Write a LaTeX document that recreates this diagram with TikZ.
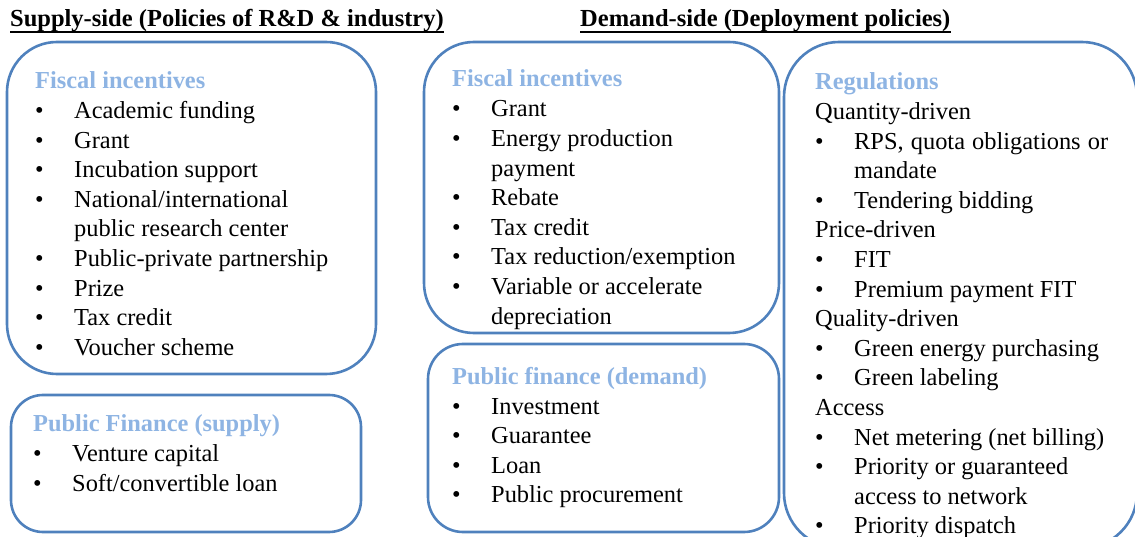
\documentclass[tikz,border=0pt]{standalone}
\usepackage{fontspec}
\setmainfont{Liberation Serif}
\definecolor{framec}{HTML}{4F81BD}
\definecolor{ttlc}{HTML}{8EB4E3}
\newcommand\bul{\makebox[39pt][l]{\textbullet}}
\newcommand\ind{\hspace*{39pt}}
\tikzset{
  panel/.style={draw=framec, line width=2.6pt, rectangle, inner sep=0pt},
  txt/.style={anchor=base west, inner sep=0pt, font=\fontsize{24.4}{29.6}\selectfont},
  ttl/.style={txt, font=\fontsize{24.4}{29.6}\selectfont\bfseries, text=ttlc},
  hdr/.style={txt, font=\fontsize{24.5}{29.6}\selectfont\bfseries},
  uline/.style={line width=1.8pt},
}
\newcommand\boxlines[4]{%
  \foreach \lntext [count=\i] in {#4} {\node[txt] (#3\i) at (#1,{#2+29.6*(\i-1)}) {\lntext};}}
\begin{document}
\begin{tikzpicture}[x=1pt,y=-1pt]
\useasboundingbox (0,0) rectangle (1135,537);
% headers
\node[hdr] (hs) at (10,27) {Supply-side (Policies of R\&D \& industry)};
\node[hdr] (hd) at (580,27) {Demand-side (Deployment policies)};
\draw[uline] ([yshift=-5pt]hs.base west) -- ([yshift=-5pt]hs.base east);
\draw[uline] ([yshift=-5pt]hd.base west) -- ([yshift=-5pt]hd.base east);
% panels
\node[panel, rounded corners=50pt, minimum width=369pt, minimum height=332pt] (sf) at (191.5,208) {};
\node[panel, rounded corners=32pt, minimum width=350pt, minimum height=137pt] (spf) at (186,463.5) {};
\node[panel, rounded corners=50pt, minimum width=355pt, minimum height=291pt] (df) at (601.5,187.5) {};
\node[panel, rounded corners=35pt, minimum width=351pt, minimum height=188pt] (dpf) at (603.5,438) {};
\node[panel, rounded corners=55pt, minimum width=353pt, minimum height=506pt] (reg) at (960.5,295) {};
% supply fiscal
\node[ttl] (sft) at (35,88.5) {Fiscal incentives};
\boxlines{35}{118.5}{sfl}{\bul Academic funding, \bul Grant, \bul Incubation support, \bul National/international, \ind public research center, \bul Public-private partnership, \bul Prize, \bul Tax credit, \bul Voucher scheme}
% supply public finance
\node[ttl] (spft) at (33,431.5) {Public Finance (supply)};
\boxlines{33}{461.5}{spfl}{\bul Venture capital, \bul Soft/convertible\ loan}
% demand fiscal
\node[ttl] (dft) at (452,87) {Fiscal incentives};
\boxlines{452}{117}{dfl}{\bul Grant, \bul Energy production, \ind payment, \bul Rebate, \bul Tax credit, \bul Tax reduction/exemption, \bul Variable\ or accelerate, \ind depreciation}
% demand public finance
\node[ttl] (dpft) at (452,384.5) {Public finance (demand)};
\boxlines{452}{414}{dpfl}{\bul Investment, \bul Guarantee, \bul Loan, \bul Public procurement}
% regulations
\node[ttl] (regt) at (815,90) {Regulations};
\boxlines{815}{119.5}{regl}{Quantity-driven, {\bul\makebox[254pt][s]{RPS, quota obligations or}}, \ind mandate, \bul Tendering bidding, Price-driven, \bul FIT, \bul Premium payment FIT, Quality-driven, \bul Green energy purchasing, \bul Green labeling, Access, \bul Net metering (net billing), \bul Priority\ or guaranteed, \ind access\ to network, \bul Priority\ dispatch}
\end{tikzpicture}
\end{document}
